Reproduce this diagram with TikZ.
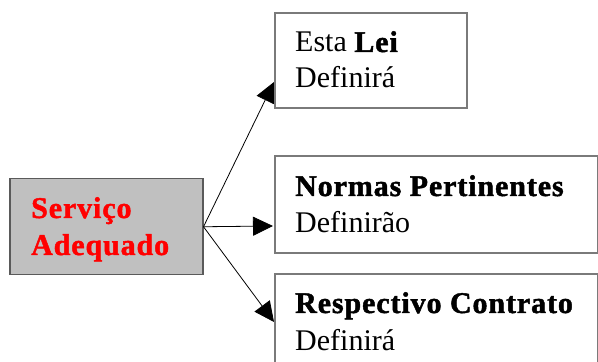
\documentclass[tikz,border=0pt]{standalone}
\usepackage{fontspec}
\setmainfont{Liberation Serif}[BoldFeatures={FakeBold=1.5,LetterSpace=3}]
\usetikzlibrary{arrows.meta}
\definecolor{boxgray}{HTML}{C0C0C0}
\definecolor{edgedark}{HTML}{5A5A5A}
\definecolor{edgegray}{HTML}{7A7A7A}
\begin{document}
\begin{tikzpicture}[x=1pt,y=1pt,
  srcbox/.style={draw=edgedark,line width=1.5pt,fill=boxgray,anchor=north west,inner sep=0pt},
  tgtbox/.style={draw=edgegray,line width=1.6pt,fill=white,anchor=north west,inner sep=0pt},
  txt/.style={anchor=base west,inner sep=0pt,font=\fontsize{30}{36}\selectfont},
  redtxt/.style={txt,text=red,font=\fontsize{30}{36}\selectfont\bfseries},
  conn/.style={line width=0.8pt,-{Triangle[length=20pt,width=19pt]}}]
\clip (0,0) rectangle (598,362);
\fill[white] (0,0) rectangle (598,362);
% source box
\node[srcbox,minimum width=193pt,minimum height=96pt] (svc) at (9,184) {};
% target anchor points
\coordinate (t1) at (274,280);
\coordinate (t2) at (273,136);
\coordinate (t3) at (274,40);
% connectors
\draw[conn] (svc.east) -- (t1);
\draw[conn] (svc.east) -- (t2);
\draw[conn] (svc.east) -- (t3);
% target boxes
\node[tgtbox,minimum width=192pt,minimum height=95pt] (lei) at (274,350) {};
\node[tgtbox,minimum width=323pt,minimum height=97pt] (normas) at (274,207) {};
\node[tgtbox,minimum width=323pt,minimum height=120pt] (contrato) at (274,89) {};
% texts
\node[redtxt] (s1) at (31,144) {Serviço};
\node[redtxt] (s2) at (31,107) {Adequado};
\node[txt] (l1) at (295,310) {Esta \textbf{Lei}};
\node[txt] (l2) at (295,274) {Definirá};
\node[txt] (n1) at (295,166) {\textbf{Normas Pertinentes}};
\node[txt] (n2) at (295,129) {Definirão};
\node[txt] (c1) at (295,49) {\textbf{Respectivo Contrato}};
\node[txt] (c2) at (295,12) {Definirá};
\end{tikzpicture}
\end{document}
